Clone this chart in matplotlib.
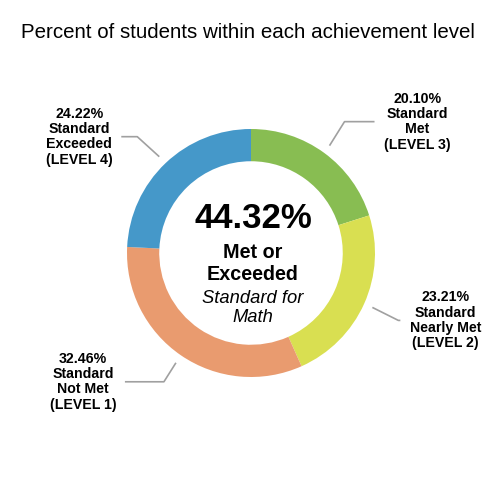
import numpy as np
import matplotlib.pyplot as plt

plt.rcParams['font.family'] = ['Liberation Sans', 'DejaVu Sans']

# Achievement levels in clockwise order from the top
levels = ['LEVEL 3', 'LEVEL 2', 'LEVEL 1', 'LEVEL 4']
names = ['Standard\nMet', 'Standard\nNearly Met', 'Standard\nNot Met', 'Standard\nExceeded']
percents = [20.10, 23.21, 32.46, 24.22]
colors = ['#88bd52', '#d9df51', '#e99b6f', '#4598c9']
met_or_exceeded = 44.32
subject = 'Math'

W, H = 500, 496
fig = plt.figure(figsize=(5, 4.96), dpi=100)
ax = fig.add_axes([0, 0, 1, 1])

cx, cy, r = 251, H - 253, 124
wedges, _ = ax.pie(percents, colors=colors, startangle=90, counterclock=False,
                   radius=r, center=(cx, cy), frame=True,
                   wedgeprops=dict(width=r * 0.26, edgecolor='none'))
ax.set_xlim(0, W)
ax.set_ylim(0, H)
ax.set_aspect('equal')
ax.axis('off')

# leader line shape per label: elbow offset, horizontal run, text offset
elbows = [(15, 24), (26, -13), (-12, -19), (-22, 20)]
runs = [30, 2, -39, -16]
text_dx = [43, 45, -42, -42]

for w, lvl, name, p, (ex, ey), run, tdx in zip(wedges, levels, names, percents, elbows, runs, text_dx):
    ang = np.deg2rad((w.theta1 + w.theta2) / 2)
    x0 = cx + 133 * np.cos(ang)
    y0 = cy + 133 * np.sin(ang)
    xs = [x0, x0 + ex, x0 + ex + run]
    ys = [y0, y0 + ey, y0 + ey]
    ax.plot(xs, ys, color='#a0a0a0', lw=1.2, solid_capstyle='butt')
    ax.text(xs[-1] + tdx, ys[-1], f'{p:.2f}%\n{name}\n({lvl})', ha='center', va='center',
            multialignment='center', fontsize=10.2, fontweight='bold', linespacing=1.12)

ax.text(253, H - 219, f'{met_or_exceeded:.2f}%', ha='center', va='center', fontsize=25, fontweight='bold')
ax.text(253, H - 264, 'Met or\nExceeded', ha='center', va='center', fontsize=14.2,
        fontweight='bold', linespacing=1.2)
ax.text(253, H - 308, f'Standard for\n{subject}', ha='center', va='center', fontsize=13.2,
        style='italic', linespacing=1.12)

fig.text(248 / W, 1 - 33 / H, 'Percent of students within each achievement level',
         ha='center', va='center', fontsize=14.8)

fig.savefig('out.png', dpi=100)
